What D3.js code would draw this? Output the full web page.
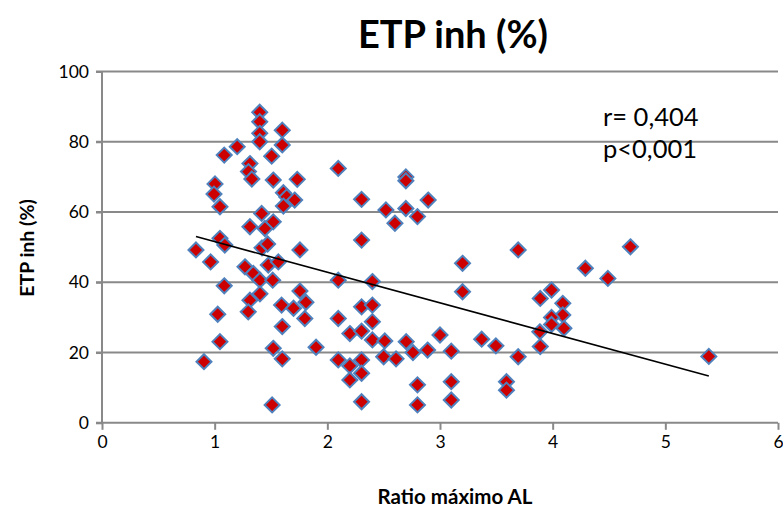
<!DOCTYPE html>
<html>
<head>
<meta charset="utf-8">
<script src="https://cdn.jsdelivr.net/npm/d3@7"></script>
<style>
  html, body { margin: 0; padding: 0; background: #fff; }
  svg { display: block; }
  text { font-family: Lato, "Open Sans", sans-serif; fill: #000; }
</style>
</head>
<body>
<svg id="chart" width="783" height="520"></svg>
<script>
// ---- data ----
const title = "ETP inh (%)";
const xTitle = "Ratio máximo AL";
const yTitle = "ETP inh (%)";
const xTicks = [0, 1, 2, 3, 4, 5, 6];
const yTicks = [0, 20, 40, 60, 80, 100];
const annotation = ["r= 0,404", "p<0,001"];

const ratio = [
  1.40, 1.40, 1.40, 1.40, 1.60, 1.60, 1.20, 1.085, 1.506, 1.313, 1.30, 1.33, 1.52, 1.733,
  1.003, 0.994, 1.047, 1.61, 1.64, 1.71, 1.61, 1.417, 1.52,
  1.313, 1.446, 1.047, 1.09, 0.834, 0.964, 1.42, 1.47, 1.757, 1.269, 1.343, 1.476, 1.565,
  1.402, 1.515, 1.085, 1.757, 1.402, 1.313, 1.594, 1.70, 1.81, 1.298, 1.027, 1.80, 1.60,
  2.097, 2.697, 2.697, 2.304, 2.895, 2.52, 2.697, 2.80, 2.60, 2.304, 2.097, 2.40, 3.20, 3.20,
  2.097, 2.304, 2.40, 2.40, 2.20, 2.304, 2.40, 2.51, 1.52, 1.60, 1.90, 2.097, 2.20, 2.304,
  2.304, 2.20, 2.50, 2.61, 2.70, 2.76, 2.89, 3.00, 3.10, 2.80, 3.10, 2.80, 3.10, 2.304, 1.51,
  1.047, 0.905,
  3.694, 4.29, 4.49, 4.69, 3.99, 3.89, 4.09, 4.09, 3.99, 3.99, 4.10, 3.886, 3.89, 3.37, 3.496,
  3.694, 3.59, 3.59, 5.386
];
const etp = [
  88.4, 85.7, 82.4, 80.0, 83.3, 79.1, 78.6, 76.2, 75.9, 73.8, 71.5, 69.4, 69.1, 69.3,
  68.0, 65.1, 61.5, 65.5, 64.3, 63.4, 61.7, 59.6, 57.2,
  55.8, 55.3, 52.5, 50.6, 49.2, 45.8, 49.8, 50.9, 49.2, 44.4, 42.5, 44.9, 45.8,
  40.6, 40.6, 39.0, 37.5, 36.7, 34.9, 33.5, 32.6, 34.3, 31.6, 30.9, 29.7, 27.4,
  72.4, 70.0, 68.9, 63.6, 63.4, 60.6, 61.0, 58.7, 56.8, 52.0, 40.6, 40.2, 45.4, 37.3,
  29.7, 33.0, 33.5, 28.8, 25.4, 26.1, 23.6, 23.3, 21.2, 18.2, 21.5, 17.9, 16.2, 17.9,
  14.1, 12.2, 18.8, 18.2, 23.1, 20.0, 20.7, 25.0, 20.4, 10.8, 11.7, 5.1, 6.5, 6.0, 5.1,
  23.1, 17.4,
  49.2, 44.0, 41.1, 50.1, 37.8, 35.4, 34.0, 30.7, 30.0, 28.0, 26.9, 25.9, 21.7, 23.8, 21.9,
  18.8, 11.7, 9.3, 18.9
];
// linear trend line (from chart)
const trendRange = [0.834, 5.386];
const trendIntercept = 60.3;
const trendSlope = -8.72;

// ---- chart ----
const svg = d3.select("#chart");
const x = d3.scaleLinear().domain([0, 6]).range([102, 778]);
const y = d3.scaleLinear().domain([0, 100]).range([422.8, 71.5]);
const gridColor = "#898989";

// gridlines
svg.append("g").selectAll("line").data(yTicks.filter(d => d > 0)).join("line")
  .attr("x1", x(0) - 6).attr("x2", x(6))
  .attr("y1", d => y(d)).attr("y2", d => y(d))
  .attr("stroke", gridColor).attr("stroke-width", 2);

// y axis
const yAxis = svg.append("g").attr("transform", `translate(${x(0)},0)`)
  .call(d3.axisLeft(y).tickValues(yTicks).tickSize(6).tickPadding(7).tickFormat(d3.format("d")));
yAxis.select(".domain").attr("stroke", gridColor).attr("stroke-width", 2).attr("d", `M0,${y(0)}V${y(100)}`);
yAxis.selectAll(".tick line").attr("stroke", gridColor).attr("stroke-width", 2);
yAxis.selectAll(".tick text").attr("font-size", 17.5).attr("font-family", "Lato").attr("fill", "#000");

// x axis
const xAxis = svg.append("g").attr("transform", `translate(0,${y(0)})`)
  .call(d3.axisBottom(x).tickValues(xTicks).tickSize(7).tickPadding(6).tickFormat(d3.format("d")));
xAxis.select(".domain").attr("stroke", gridColor).attr("stroke-width", 2).attr("d", `M${x(0) - 6},0H${x(6)}`);
xAxis.selectAll(".tick line").attr("stroke", gridColor).attr("stroke-width", 2);
xAxis.selectAll(".tick text").attr("font-size", 17.5).attr("font-family", "Lato").attr("fill", "#000");

// points
const pts = ratio.map((v, i) => ({ x: v, y: etp[i] }));
const r = 7.5;
svg.append("g").selectAll("path").data(pts).join("path")
  .attr("transform", d => `translate(${x(d.x)},${y(d.y)})`)
  .attr("d", `M0,${-r}L${r},0L0,${r}L${-r},0Z`)
  .attr("fill", "#cc0000")
  .attr("stroke", "#4f81bd")
  .attr("stroke-width", 2);

// trend line
svg.append("line")
  .attr("x1", x(trendRange[0])).attr("y1", y(trendIntercept + trendSlope * trendRange[0]))
  .attr("x2", x(trendRange[1])).attr("y2", y(trendIntercept + trendSlope * trendRange[1]))
  .attr("stroke", "#000").attr("stroke-width", 1.6);

// title
svg.append("text").attr("x", 453).attr("y", 48).attr("text-anchor", "middle")
  .attr("font-size", 38).attr("font-weight", "bold").text(title);

// annotation
svg.selectAll(".ann").data(annotation).join("text").attr("class", "ann")
  .attr("x", 603).attr("y", (d, i) => 126 + i * 32)
  .attr("font-size", 25.5).text(d => d);

// axis titles
svg.append("text").attr("x", 455).attr("y", 504).attr("text-anchor", "middle")
  .attr("font-size", 20.5).attr("font-weight", "bold").text(xTitle);
svg.append("text").attr("transform", "translate(34,248) rotate(-90)").attr("text-anchor", "middle")
  .attr("font-size", 19.5).attr("font-weight", "bold").text(yTitle);
</script>
</body>
</html>
